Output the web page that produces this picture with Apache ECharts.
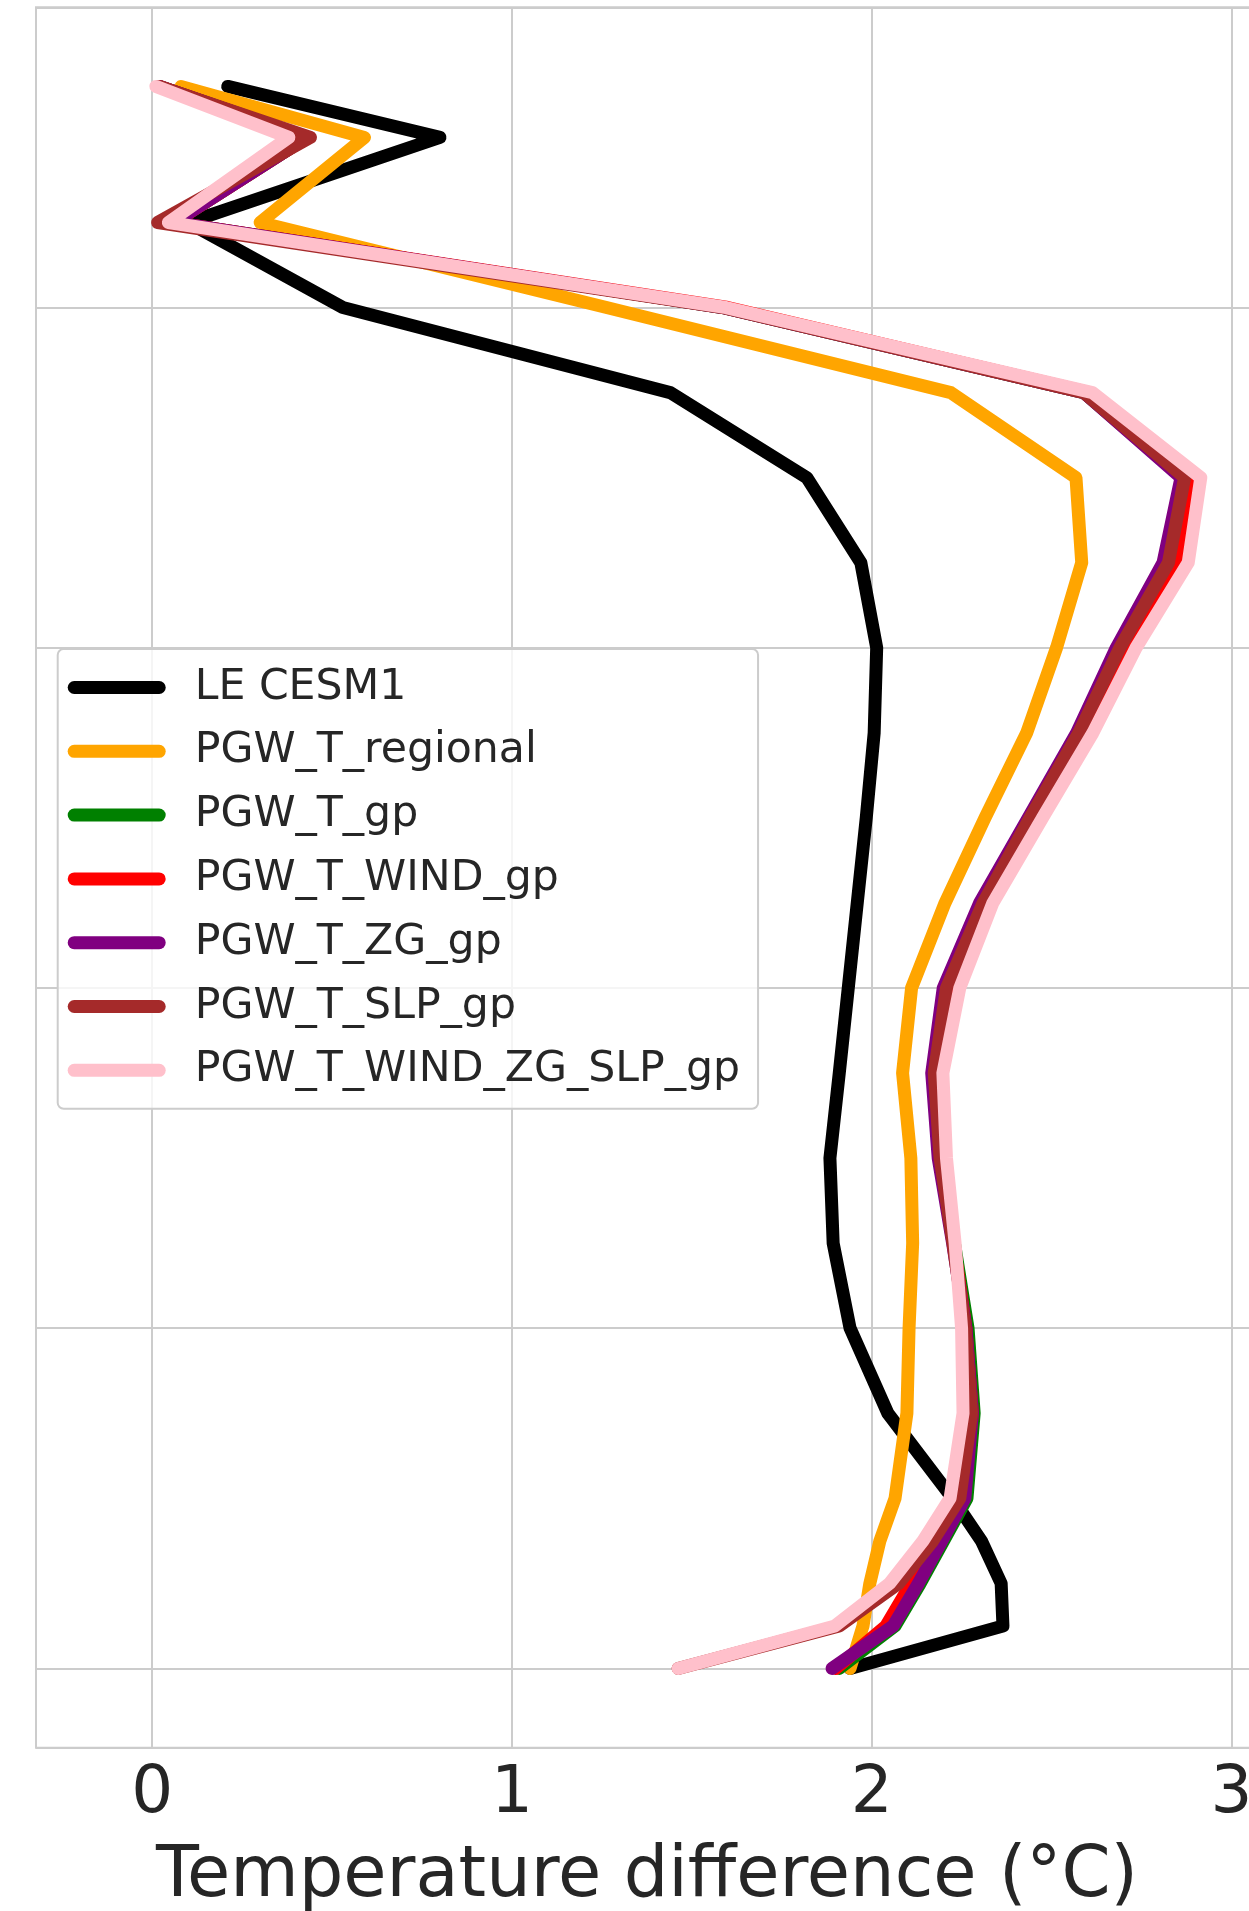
<!DOCTYPE html>
<html>
<head>
<meta charset="utf-8">
<script src="https://cdn.jsdelivr.net/npm/echarts@6/dist/echarts.min.js"></script>
<style>
html,body{margin:0;padding:0;background:#fff;}
#chart{width:1249px;height:1911px;}
</style>
</head>
<body>
<div id="chart"></div>
<script>
// Pressure levels (hPa)
var levels = [70,100,150,200,250,300,350,400,450,500,550,600,650,700,750,800,850,900,925,950,975,1000];
// Temperature difference (°C) per level
var leCesm1      = [0.21,0.80,0.10,0.53,1.44,1.82,1.97,2.014,2.007,1.985,1.96,1.935,1.91,1.884,1.893,1.94,2.045,2.225,2.305,2.36,2.365,1.94];
var tRegional    = [0.08,0.59,0.30,1.263,2.22,2.568,2.584,2.514,2.431,2.315,2.204,2.111,2.086,2.109,2.114,2.104,2.098,2.065,2.023,1.995,1.976,1.94];
var tGp          = [0.02,0.43,0.06,1.585,2.59,2.865,2.815,2.685,2.575,2.44,2.305,2.205,2.172,2.19,2.23,2.268,2.285,2.265,2.2,2.135,2.065,1.91];
var tWindGp      = [0.02,0.43,0.06,1.60,2.605,2.899,2.857,2.72,2.595,2.455,2.32,2.21,2.172,2.19,2.228,2.262,2.28,2.255,2.19,2.11,2.04,1.90];
var tZgGp        = [0.02,0.43,0.06,1.585,2.59,2.86,2.81,2.68,2.57,2.435,2.30,2.199,2.167,2.185,2.225,2.262,2.28,2.259,2.195,2.13,2.06,1.89];
var tSlpGp       = [0.02,0.44,0.015,1.585,2.59,2.87,2.825,2.69,2.576,2.44,2.31,2.208,2.174,2.19,2.226,2.26,2.278,2.245,2.17,2.075,1.91,1.462];
var tWindZgSlpGp = [0.01,0.38,0.045,1.595,2.614,2.915,2.88,2.735,2.615,2.475,2.337,2.245,2.198,2.208,2.232,2.25,2.254,2.218,2.143,2.05,1.898,1.462];

var seriesNames  = ['LE CESM1','PGW_T_regional','PGW_T_gp','PGW_T_WIND_gp','PGW_T_ZG_gp','PGW_T_SLP_gp','PGW_T_WIND_ZG_SLP_gp'];
var seriesValues = [leCesm1, tRegional, tGp, tWindGp, tZgGp, tSlpGp, tWindZgSlpGp];
var seriesColors = ['#000000','#ffa500','#008000','#ff0000','#800080','#a52a2a','#ffc0cb'];

var FONT = 'DejaVu Sans';
var TXT = '#262626';

var chart = echarts.init(document.getElementById('chart'), null, {renderer:'canvas'});

var series = seriesNames.map(function(name, i){
  return {
    name: name,
    type: 'line',
    data: seriesValues[i].map(function(v, k){ return [v, levels[k]]; }),
    symbol: 'none',
    color: seriesColors[i],
    lineStyle: {color: seriesColors[i], width: 13, cap: 'round', join: 'round'},
    itemStyle: {color: seriesColors[i]},
    animation: false
  };
});

chart.setOption({
  backgroundColor: '#ffffff',
  animation: false,
  grid: {left: 36, right: -9, top: 7.3, bottom: 163.3, show: true, borderColor: '#cccccc', borderWidth: 2,
         backgroundColor: 'transparent', outerBoundsMode: 'none', containLabel: false},
  xAxis: {
    type: 'value', min: -0.323, max: 3.074, splitNumber: 3,
    axisLine: {show: false}, axisTick: {show: false},
    splitLine: {show: true, lineStyle: {color: '#cccccc', width: 2}},
    axisLabel: {show: true, showMinLabel: false, showMaxLabel: false, fontFamily: FONT, fontSize: 66, color: TXT, margin: 14,
      formatter: function(v){ return String(Math.round(v)); }},
    name: 'Temperature difference (°C)', nameLocation: 'middle', nameGap: 95,
    nameTextStyle: {fontFamily: FONT, fontSize: 70.3, color: TXT}
  },
  yAxis: {
    type: 'value', inverse: true, min: 23.5, max: 1046.6, splitNumber: 5,
    axisLine: {show: false}, axisTick: {show: false}, axisLabel: {show: false},
    splitLine: {show: true, lineStyle: {color: '#cccccc', width: 2}}
  },
  legend: {
    show: true, orient: 'vertical', left: 57.7, top: 649,
    padding: [17, 18, 17, 10], itemGap: 20.8, itemWidth: 98, itemHeight: 13,
    icon: 'path://M6.5 0H91.5A6.5 6.5 0 0 1 91.5 13H6.5A6.5 6.5 0 0 1 6.5 0Z',
    itemStyle: {borderWidth: 0},
    backgroundColor: 'rgba(255,255,255,0.8)', borderColor: '#cccccc', borderWidth: 2, borderRadius: 6,
    textStyle: {fontFamily: FONT, fontSize: 42.6, color: TXT, lineHeight: 41, padding: [0, 0, 0, 24]},
    data: seriesNames
  },
  series: series
});
</script>
</body>
</html>
